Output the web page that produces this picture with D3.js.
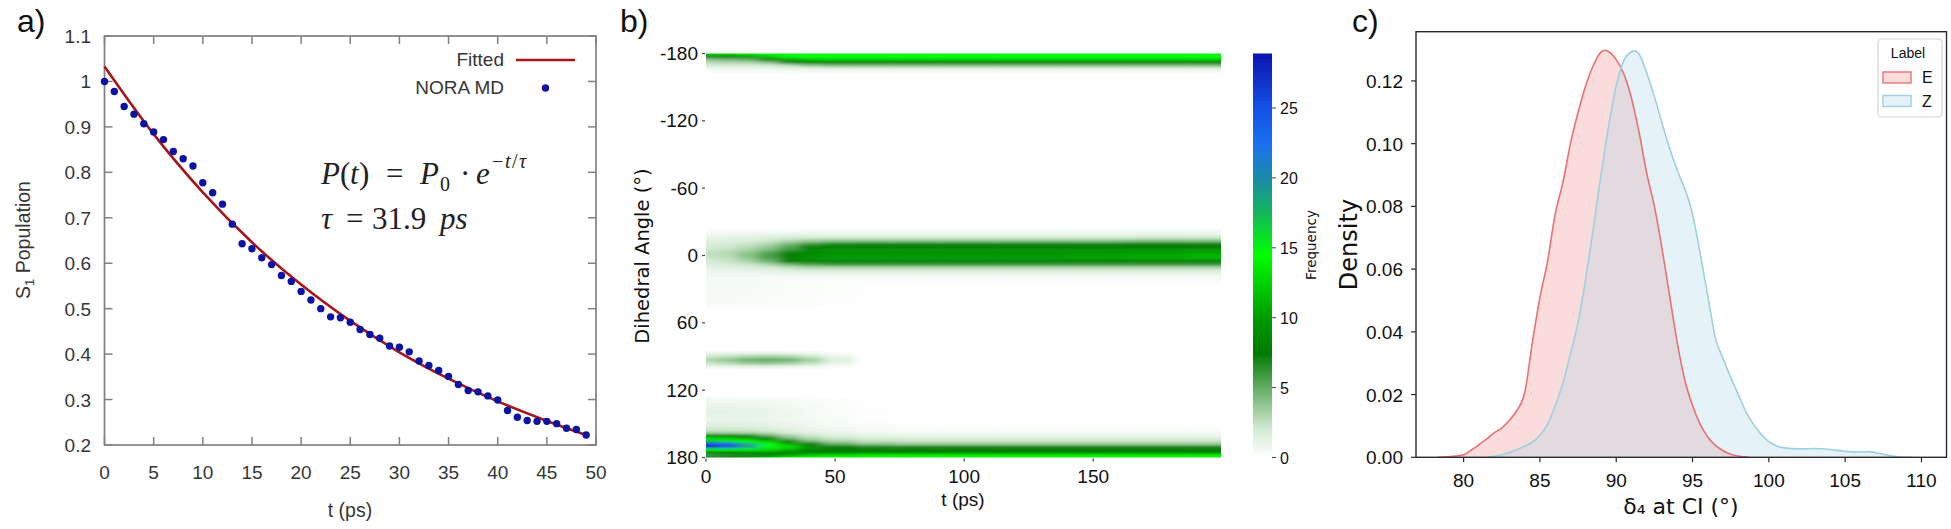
<!DOCTYPE html>
<html><head><meta charset="utf-8">
<script src="https://cdn.jsdelivr.net/npm/d3@7"></script>
<style>body{margin:0;background:#fff;} svg{display:block;}</style>
</head><body>
<svg id="fig" width="1951" height="529"></svg>
<script>
// ================= DATA =================
// Panel a: S1 population decay
const popTimes = [0,1,2,3,4,5,6,7,8,9,10,11,12,13,14,15,16,17,18,19,20,21,22,23,24,25,26,27,28,29,30,31,32,33,34,35,36,37,38,39,40,41,42,43,44,45,46,47,48,49];
const popValues = [1.000,0.978,0.945,0.928,0.907,0.889,0.872,0.846,0.830,0.814,0.777,0.755,0.730,0.686,0.643,0.632,0.612,0.597,0.573,0.560,0.538,0.519,0.500,0.482,0.480,0.470,0.454,0.443,0.435,0.418,0.415,0.405,0.385,0.375,0.364,0.351,0.333,0.320,0.317,0.308,0.299,0.276,0.261,0.254,0.252,0.252,0.247,0.237,0.234,0.222];
const fitTimes = [0,5,10,15,20,25,30,35,40,45,49];
const fitValues = [1.033,0.884,0.756,0.646,0.553,0.473,0.404,0.346,0.296,0.253,0.222];
const aXTicks = [0,5,10,15,20,25,30,35,40,45,50];
const aYTicks = [0.2,0.3,0.4,0.5,0.6,0.7,0.8,0.9,1.0,1.1];

// Panel b: dihedral-angle frequency heatmap (rows = angle, columns = time)
const heatTimes = [0,8,16,24,32,40,50,65,80,100,125,150,175,199.5];
const heatAngles = [-179.5,-177,-174.5,-172,-169.5,-167,-164.5,
  -22,-19,-16,-13,-10,-7,-4,-1,2,5,8,11,14,17,20,23,28,34,40,46,
  87,90,93,96,99,
  128,134,140,146,151,155.5,158,160.5,163,165.5,168,170.5,173,175.5,178,179.5];
const heatValues = [
  [12,12.5,13.5,15,15,15,15,15,15,15,15,15,15,15],
  [7,7.5,9,12,14,14.5,14.5,14.5,14.5,14.5,14.5,14.5,14.5,14.5],
  [4,4.5,5,7.5,10,11.5,12,12,12,12,12,12,12,12],
  [2.8,3,3.2,4,7,8,8,8,8,8,8,8,8,8],
  [1.8,2,2,2.2,2.8,4,4.5,4.5,4.5,4.5,4.5,4.5,4.5,4.5],
  [0.9,1,1,1,1.2,1.5,1.8,1.8,1.8,1.8,1.8,1.8,1.8,1.8],
  [0.3,0.4,0.4,0.4,0.5,0.6,0.6,0.6,0.6,0.6,0.6,0.6,0.6,0.6],
  [0.3,0.3,0.3,0.35,0.4,0.5,0.5,0.5,0.5,0.5,0.5,0.5,0.5,0.5],
  [0.7,0.7,0.8,0.9,1.0,1.0,1.0,1.0,1.0,1.0,1.0,1.0,1.0,1.0],
  [1.1,1.2,1.3,1.5,1.8,2.0,2.1,2.1,2.1,2.1,2.1,2.1,2.1,2.1],
  [1.4,1.5,1.8,2.2,3.0,3.6,4.0,4.0,4.0,4.0,4.0,4.0,4.2,4.2],
  [1.7,1.9,2.3,3.0,4.5,6.0,6.8,7.0,7.0,7.0,7.0,7.0,7.2,7.2],
  [2.0,2.2,2.8,3.8,5.5,7.5,7.8,7.8,7.8,7.8,7.8,7.8,7.8,7.8],
  [2.4,2.7,3.4,4.8,6.5,8.5,9.0,9.0,9.0,9.0,9.0,9.4,9.6,10.0],
  [2.5,2.8,4.0,5.6,7.6,9.0,9.6,9.6,9.6,9.6,9.6,10.0,10.5,11.0],
  [2.3,2.6,3.8,5.6,8.0,9.0,9.6,9.6,9.6,9.6,9.6,10.0,10.5,11.0],
  [2.0,2.3,3.2,4.8,7.5,8.0,8.0,8.0,8.0,8.0,8.0,8.0,8.0,8.0],
  [1.6,1.8,2.2,3.0,4.5,5.5,6.0,6.0,6.0,6.0,6.0,6.0,6.0,6.0],
  [1.3,1.4,1.6,2.0,2.5,3.0,3.0,3.0,3.0,3.0,3.0,3.0,3.0,3.0],
  [1.0,1.0,1.1,1.2,1.4,1.6,1.6,1.6,1.6,1.6,1.6,1.6,1.6,1.6],
  [0.7,0.7,0.7,0.7,0.8,0.8,0.8,0.8,0.8,0.8,0.8,0.8,0.8,0.8],
  [0.5,0.5,0.5,0.45,0.4,0.4,0.4,0.4,0.4,0.4,0.4,0.4,0.4,0.4],
  [0.4,0.4,0.4,0.35,0.3,0.2,0.2,0.2,0.2,0.2,0.2,0.2,0.2,0.2],
  [0.5,0.5,0.45,0.4,0.3,0.2,0.15,0.1,0,0,0,0,0,0],
  [0.4,0.4,0.4,0.35,0.3,0.2,0.15,0.1,0,0,0,0,0,0],
  [0.4,0.4,0.35,0.3,0.25,0.2,0.1,0.05,0,0,0,0,0,0],
  [0.3,0.3,0.3,0.25,0.2,0.15,0.1,0,0,0,0,0,0,0],
  [0.8,1.0,1.2,1.2,1.0,0.7,0.3,0,0,0,0,0,0,0],
  [2.0,2.5,3.0,3.2,3.0,2.2,1.0,0,0,0,0,0,0,0],
  [3.0,3.8,4.8,5.2,4.8,3.5,1.6,0,0,0,0,0,0,0],
  [2.2,2.8,3.5,3.8,3.4,2.5,1.1,0,0,0,0,0,0,0],
  [0.8,1.0,1.2,1.2,1.0,0.7,0.3,0,0,0,0,0,0,0],
  [0.6,0.6,0.6,0.5,0.4,0.3,0.15,0.05,0,0,0,0,0,0],
  [1.0,1.0,0.9,0.8,0.6,0.4,0.2,0.1,0,0,0,0,0,0],
  [1.2,1.2,1.1,1.0,0.8,0.5,0.3,0.1,0,0,0,0,0,0],
  [1.0,1.0,1.0,0.9,0.7,0.5,0.3,0.1,0.05,0.05,0.05,0.05,0.05,0.05],
  [1.5,1.5,1.4,1.2,1.0,0.7,0.4,0.2,0.1,0.1,0.1,0.1,0.1,0.1],
  [2.2,2.2,2.1,1.8,1.4,1.0,0.7,0.4,0.3,0.3,0.3,0.3,0.3,0.3],
  [3.5,3.5,3.3,2.8,2.0,1.4,1.0,0.7,0.6,0.6,0.6,0.6,0.6,0.6],
  [7.5,7.5,7,5,3.2,2.2,1.5,1.2,1.0,1.0,1.0,1.0,1.0,1.0],
  [13,12.5,10.5,7.5,4.5,3.0,2.2,1.8,1.6,1.6,1.6,1.6,1.6,1.6],
  [17,16,14.5,12,7.5,4.5,3.2,2.6,2.4,2.4,2.4,2.4,2.4,2.4],
  [26,24,18.5,14.5,11,7.5,5.0,4.0,3.6,3.6,3.6,3.6,3.6,3.6],
  [28,25.5,19.5,15,13,9,7.5,7.0,7.0,7.0,7.0,7.0,7.0,7.0],
  [15,15,14,13,11,8,7.5,7.5,7.5,7.5,7.5,7.5,7.5,7.5],
  [8,8,8.5,9,8.5,8,8,8,8,8,8,8,8,8],
  [6,6.5,7,8,10,12,13,14,14,14,14,14,14,14],
  [7,8,9,11,13,14,15,15,15,15,15,15,15,15]
];
const bXTicks = [0,50,100,150];
const bYTicks = [-180,-120,-60,0,60,120,180];
const cbTicks = [0,5,10,15,20,25];
const cbMax = 28.9;
const colorStops = [0,2,5,7.5,10,14.5,17.5,20,22.5,25,28.9];
const colorHex = ['#ffffff','#d4ebd4','#62ad62','#007a00','#009c00','#00ff00','#14b65a','#1a8aaa','#1c70f0','#1450e4','#0c14b0'];

// Panel c: KDE densities
const eX = [78.3,79.0,79.5,80.0,80.5,81.0,81.5,82.0,82.5,83.0,83.5,84.0,84.5,85.0,85.5,86.0,86.5,87.0,87.5,88.0,88.5,89.0,89.25,89.5,90.0,90.5,91.0,91.5,92.0,92.5,93.0,93.5,94.0,94.5,95.0,95.5,96.0,96.5,97.0,97.5,98.0,98.7];
const eY = [0,0.0002,0.0004,0.0008,0.0023,0.0040,0.0058,0.0078,0.0093,0.0118,0.0150,0.0205,0.0365,0.0510,0.0625,0.0775,0.0875,0.1000,0.1100,0.1185,0.1250,0.1292,0.1298,0.1294,0.1268,0.1222,0.1145,0.1035,0.0905,0.0800,0.0665,0.0515,0.0365,0.0245,0.0165,0.0105,0.0065,0.0038,0.0021,0.0010,0.0004,0];
const zX = [81.5,82.0,82.5,83.0,83.5,84.0,84.5,85.0,85.5,86.0,86.5,87.0,87.5,88.0,88.5,89.0,89.5,90.0,90.5,91.0,91.2,91.5,92.0,92.5,93.0,93.5,94.0,94.5,95.0,95.5,96.0,96.5,97.0,97.5,98.0,98.5,99.0,99.5,100.0,100.5,101.0,102.0,103.0,104.0,105.0,106.0,106.5,107.0,107.5,108.0,108.5,109.4];
const zY = [0,0.0003,0.0008,0.0015,0.0025,0.0035,0.0048,0.0070,0.0105,0.0165,0.0235,0.0330,0.0430,0.0570,0.0730,0.0900,0.1055,0.1185,0.1265,0.1293,0.1296,0.1285,0.1225,0.1150,0.1065,0.0985,0.0915,0.0855,0.0775,0.0650,0.0515,0.0380,0.0315,0.0255,0.0200,0.0145,0.0105,0.0073,0.0050,0.0036,0.0030,0.0027,0.0028,0.0025,0.0019,0.0017,0.0018,0.0015,0.0010,0.0005,0.0002,0];
const cXTicks = [80,85,90,95,100,105,110];
const cYTicks = [0,0.02,0.04,0.06,0.08,0.10,0.12];
const legendLabels = ['E','Z'];

// ================= DRAWING =================
const svg = d3.select('#fig');
const SANS = 'Liberation Sans, Arial, sans-serif';
const DJ = 'DejaVu Sans, Verdana, sans-serif';
const SERIF = 'Liberation Serif, Times New Roman, serif';

// panel letters
[['a)',17],['b)',620],['c)',1352]].forEach(([t,x])=>{
  svg.append('text').attr('x',x).attr('y',32).attr('font-family',SANS).attr('font-size',32).attr('fill','#111').text(t);
});

// ---------- Panel a ----------
const gA = svg.append('g').attr('font-family',SANS);
const aX = d3.scaleLinear().domain([0,50]).range([104.5,596]);
const aY = d3.scaleLinear().domain([0.2,1.1]).range([445,36]);
const frameCol = '#808080', txtA = '#363636';
gA.append('rect').attr('x',aX(0)).attr('y',aY(1.1)).attr('width',aX(50)-aX(0)).attr('height',aY(0.2)-aY(1.1))
  .attr('fill','none').attr('stroke',frameCol).attr('stroke-width',1.7);
const TL = 8;
gA.selectAll('.xtb').data(aXTicks).join('line').attr('x1',d=>aX(d)).attr('x2',d=>aX(d)).attr('y1',aY(0.2)).attr('y2',aY(0.2)-TL).attr('stroke',frameCol).attr('stroke-width',1.5);
gA.selectAll('.xtt').data(aXTicks).join('line').attr('x1',d=>aX(d)).attr('x2',d=>aX(d)).attr('y1',aY(1.1)).attr('y2',aY(1.1)+TL).attr('stroke',frameCol).attr('stroke-width',1.5);
gA.selectAll('.ytl').data(aYTicks).join('line').attr('x1',aX(0)).attr('x2',aX(0)+TL).attr('y1',d=>aY(d)).attr('y2',d=>aY(d)).attr('stroke',frameCol).attr('stroke-width',1.5);
gA.selectAll('.ytr').data(aYTicks).join('line').attr('x1',aX(50)).attr('x2',aX(50)-TL).attr('y1',d=>aY(d)).attr('y2',d=>aY(d)).attr('stroke',frameCol).attr('stroke-width',1.5);
gA.append('g').selectAll('text').data(aXTicks).join('text').attr('x',d=>aX(d)).attr('y',479).attr('text-anchor','middle')
  .attr('font-size',19).attr('fill',txtA).text(d=>d);
gA.append('g').selectAll('text').data(aYTicks).join('text').attr('x',91).attr('y',d=>aY(d)+7).attr('text-anchor','end')
  .attr('font-size',19).attr('fill',txtA).text(d=>String(+d.toFixed(1)));
gA.append('text').attr('x',350).attr('y',517).attr('text-anchor','middle').attr('font-size',19.5).attr('fill',txtA).text('t (ps)');
const yl = gA.append('text').attr('transform','translate(30,240) rotate(-90)').attr('text-anchor','middle').attr('font-size',19.5).attr('fill',txtA);
yl.append('tspan').text('S');
yl.append('tspan').attr('font-size',13).attr('dy',4).text('1');
yl.append('tspan').attr('dy',-4).text(' Population');
// fitted curve
gA.append('path').datum(d3.zip(fitTimes,fitValues))
  .attr('d',d3.line().x(d=>aX(d[0])).y(d=>aY(d[1])).curve(d3.curveMonotoneX))
  .attr('fill','none').attr('stroke','#a3161a').attr('stroke-width',2.6);
gA.append('g').selectAll('circle').data(d3.zip(popTimes,popValues)).join('circle')
  .attr('cx',d=>aX(d[0])).attr('cy',d=>aY(d[1])).attr('r',3.7).attr('fill','#0b14a2');
// legend
gA.append('text').attr('x',504).attr('y',66).attr('text-anchor','end').attr('font-size',19).attr('fill',txtA).text('Fitted');
gA.append('line').attr('x1',516).attr('x2',575).attr('y1',60).attr('y2',60).attr('stroke','#a3161a').attr('stroke-width',2.6);
gA.append('text').attr('x',504).attr('y',94).attr('text-anchor','end').attr('font-size',19).attr('fill',txtA).text('NORA MD');
gA.append('circle').attr('cx',545.5).attr('cy',88).attr('r',3.7).attr('fill','#0b14a2');
// equation
const eq = gA.append('g').attr('font-family',SERIF).attr('fill','#222');
function put(x,y,txt,size,italic){eq.append('text').attr('x',x).attr('y',y).attr('font-size',size).attr('font-style',italic?'italic':'normal').text(txt);}
put(321,184,'P',31,true); put(340,184,'(',31,false); put(350,184,'t',31,true); put(359,184,')',31,false);
put(386,184,'=',31,false); put(420,184,'P',31,true); put(440,191,'0',20,false); put(460,184,'·',31,false);
put(476,184,'e',31,true); put(492,168,'−',20,false); put(505,168,'t',20,true); put(512,168,'/',20,false); put(519,168,'τ',20,true);
put(321,229,'τ',31,true); put(346,229,'=',31,false); put(372,229,'31.9',31,false); put(440,229,'ps',31,true);

// ---------- Panel b ----------
const gB = svg.append('g').attr('font-family',SANS);
const bX = d3.scaleLinear().domain([0,199.5]).range([706,1221]);
const bY = d3.scaleLinear().domain([-180,180]).range([53.5,457.5]);
const color = d3.scaleLinear().domain(colorStops).range(colorHex).clamp(true);
const defs = svg.append('defs');
defs.append('clipPath').attr('id','heatClip').append('rect')
  .attr('x',bX(0)).attr('y',bY(-180)).attr('width',bX(199.5)-bX(0)).attr('height',bY(180)-bY(-180));
defs.append('filter').attr('id','soft').attr('x','-5%').attr('y','-5%').attr('width','110%').attr('height','110%')
  .append('feGaussianBlur').attr('stdDeviation','6 0.9');
// column / row extents from the sample positions
const nT = heatTimes.length;
const colEdge = heatTimes.map((t,i)=> i===0 ? t-20 : (heatTimes[i-1]+t)/2);
colEdge.push(heatTimes[nT-1]+20);
const rowSpan = heatAngles.map((a,i)=>{
  const prev = i>0 ? heatAngles[i-1] : -999, next = i<heatAngles.length-1 ? heatAngles[i+1] : 999;
  let top = (a-prev) <= 6.5 ? (prev+a)/2 : a-1.5;
  let bot = (next-a) <= 6.5 ? (a+next)/2 : a+1.5;
  if (a < -178) top = -190;
  if (a > 178) bot = 190;
  return [top,bot];
});
const cells = [];
heatValues.forEach((row,i)=>row.forEach((v,j)=>{ if(v>0) cells.push({i,j,v}); }));
const heatOuter = gB.append('g').attr('clip-path','url(#heatClip)');
heatOuter.append('g').attr('filter','url(#soft)').selectAll('rect').data(cells).join('rect')
  .attr('x',d=>bX(colEdge[d.j])).attr('width',d=>bX(colEdge[d.j+1])-bX(colEdge[d.j])+0.5)
  .attr('y',d=>bY(rowSpan[d.i][0])).attr('height',d=>bY(rowSpan[d.i][1])-bY(rowSpan[d.i][0])+0.3)
  .attr('fill',d=>color(d.v));
// axes of b
gB.selectAll('.byt').data(bYTicks).join('line').attr('x1',bX(0)-4).attr('x2',bX(0)-1).attr('y1',d=>bY(d)).attr('y2',d=>bY(d)).attr('stroke','#444').attr('stroke-width',1.2);
gB.append('g').selectAll('text').data(bYTicks).join('text').attr('x',bX(0)-8).attr('y',d=>bY(d)+6.5).attr('text-anchor','end')
  .attr('font-size',19).attr('fill','#111').text(d=>String(d));
gB.selectAll('.bxt').data(bXTicks).join('line').attr('x1',d=>bX(d)).attr('x2',d=>bX(d)).attr('y1',bY(180)+1).attr('y2',bY(180)+4).attr('stroke','#444').attr('stroke-width',1.2);
gB.append('g').selectAll('text').data(bXTicks).join('text').attr('x',d=>bX(d)).attr('y',483).attr('text-anchor','middle')
  .attr('font-size',19).attr('fill','#111').text(d=>d);
gB.append('text').attr('x',963).attr('y',506).attr('text-anchor','middle').attr('font-size',19).attr('fill','#111').text('t (ps)');
gB.append('text').attr('transform','translate(649,256) rotate(-90)').attr('text-anchor','middle').attr('font-family',DJ).attr('font-size',19.5).attr('fill','#111').text('Dihedral Angle (°)');
// colorbar
const cbY = d3.scaleLinear().domain([0,cbMax]).range([457.5,53.5]);
const grad = defs.append('linearGradient').attr('id','cbGrad').attr('x1',0).attr('x2',0).attr('y1',1).attr('y2',0);
grad.selectAll('stop').data(colorStops).join('stop').attr('offset',d=>d/cbMax).attr('stop-color',d=>color(d));
gB.append('rect').attr('x',1253).attr('y',cbY(cbMax)).attr('width',19).attr('height',cbY(0)-cbY(cbMax)).attr('fill','url(#cbGrad)');
gB.selectAll('.cbt').data(cbTicks).join('line').attr('x1',1272).attr('x2',1276).attr('y1',d=>cbY(d)).attr('y2',d=>cbY(d)).attr('stroke','#444');
gB.append('g').selectAll('text').data(cbTicks).join('text').attr('x',1280).attr('y',d=>cbY(d)+6).attr('font-size',16).attr('fill','#111').text(d=>d);
gB.append('text').attr('transform','translate(1316,245) rotate(-90)').attr('text-anchor','middle').attr('font-family',DJ).attr('font-size',13.5).attr('fill','#111').text('Frequency');

// ---------- Panel c ----------
const gC = svg.append('g').attr('font-family',SANS);
const cX = d3.scaleLinear().domain([76.88,111.64]).range([1416,1946.5]);
const cY = d3.scaleLinear().domain([0,0.1357]).range([457.3,31.7]);
const area = d3.area().x(d=>cX(d[0])).y0(cY(0)).y1(d=>cY(d[1])).curve(d3.curveMonotoneX);
const line = d3.line().x(d=>cX(d[0])).y(d=>cY(d[1])).curve(d3.curveMonotoneX);
const eData = d3.zip(eX,eY), zData = d3.zip(zX,zY);
const eFill = '#f08080', zFill = '#add8e6', eLine = '#e87272', zLine = '#9fd0df';
gC.append('path').datum(eData).attr('d',area).attr('fill',eFill).attr('fill-opacity',0.28);
gC.append('path').datum(zData).attr('d',area).attr('fill',zFill).attr('fill-opacity',0.32);
gC.append('path').datum(eData).attr('d',line).attr('fill','none').attr('stroke',eLine).attr('stroke-width',1.6);
gC.append('path').datum(zData).attr('d',line).attr('fill','none').attr('stroke',zLine).attr('stroke-width',1.6);
gC.append('rect').attr('x',cX(76.88)).attr('y',cY(0.1357)).attr('width',cX(111.64)-cX(76.88)).attr('height',cY(0)-cY(0.1357))
  .attr('fill','none').attr('stroke','#2a2a2a').attr('stroke-width',1.4);
gC.selectAll('.cxt').data(cXTicks).join('line').attr('x1',d=>cX(d)).attr('x2',d=>cX(d)).attr('y1',cY(0)).attr('y2',cY(0)+5).attr('stroke','#2a2a2a').attr('stroke-width',1.2);
gC.selectAll('.cyt').data(cYTicks).join('line').attr('x1',cX(76.88)-5).attr('x2',cX(76.88)).attr('y1',d=>cY(d)).attr('y2',d=>cY(d)).attr('stroke','#2a2a2a').attr('stroke-width',1.2);
gC.append('g').selectAll('text').data(cXTicks).join('text').attr('x',d=>cX(d)).attr('y',487).attr('text-anchor','middle')
  .attr('font-size',19).attr('fill','#111').text(d=>d);
gC.append('g').selectAll('text').data(cYTicks).join('text').attr('x',1403).attr('y',d=>cY(d)+7).attr('text-anchor','end')
  .attr('font-size',19).attr('fill','#111').text(d=>d3.format('.2f')(d));
gC.append('text').attr('x',1681).attr('y',514).attr('text-anchor','middle').attr('font-family',DJ).attr('font-size',22).attr('fill','#111').text('δ₄ at CI (°)');
gC.append('text').attr('transform','translate(1357,244.5) rotate(-90)').attr('text-anchor','middle').attr('font-family',DJ).attr('font-size',24).attr('fill','#111').text('Density');
// legend
const lg = gC.append('g');
lg.append('rect').attr('x',1878).attr('y',39).attr('width',64).attr('height',78).attr('rx',4)
  .attr('fill','#fff').attr('fill-opacity',0.85).attr('stroke','#d4d4d4').attr('stroke-width',1.2);
lg.append('text').attr('x',1908).attr('y',58).attr('text-anchor','middle').attr('font-size',14).attr('fill','#111').text('Label');
const legFills = [eFill,zFill], legLines=[eLine,zLine], legOp=[0.28,0.32];
legendLabels.forEach((lab,i)=>{
  const y = 72 + i*23.5;
  lg.append('rect').attr('x',1883).attr('y',y).attr('width',28).attr('height',11).attr('fill','#fff');
  lg.append('rect').attr('x',1883).attr('y',y).attr('width',28).attr('height',11)
    .attr('fill',legFills[i]).attr('fill-opacity',legOp[i]).attr('stroke',legLines[i]).attr('stroke-width',1.4);
  lg.append('text').attr('x',1922).attr('y',y+11).attr('font-size',16).attr('fill','#111').text(lab);
});
</script>
</body></html>
